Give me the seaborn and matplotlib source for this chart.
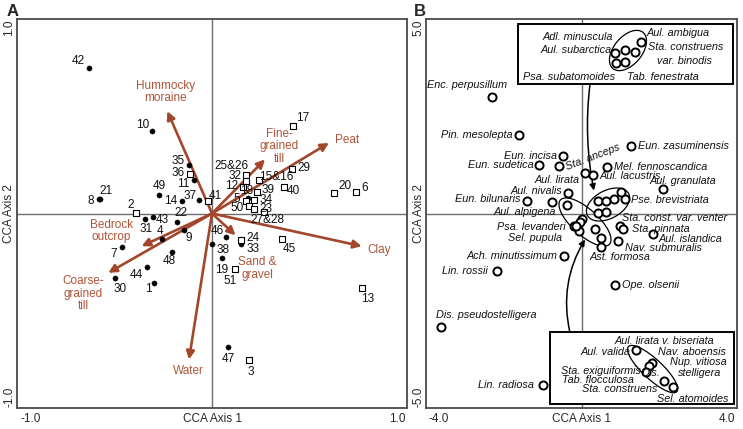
import numpy as np
import pandas as pd
import matplotlib
matplotlib.use('Agg')
import matplotlib.pyplot as plt
import seaborn as sns
from matplotlib.patches import Ellipse, Rectangle

sns.set_theme(style='white')
plt.rcParams['font.family'] = ['Liberation Sans', 'DejaVu Sans']

# ---------------- Panel A data: site scores ----------------
filled_names = ['42', '10', '35', '11', '49', '14', '37', '21', '8', '31', '43', '22', '4', '9',
                '7', '48', '44', '30', '1', '46', '38', '33', '19', '47', '18']
filled_x = [-0.629, -0.309, -0.118, -0.091, -0.273, -0.154, -0.068, -0.573, -0.580, -0.344, -0.301,
            -0.178, -0.258, -0.144, -0.460, -0.207, -0.335, -0.497, -0.296, 0.072, 0.000, 0.149,
            0.049, 0.082, 0.186]
filled_y = [0.749, 0.423, 0.247, 0.170, 0.094, 0.063, 0.067, 0.076, 0.072, -0.027, -0.019,
            -0.045, -0.130, -0.086, -0.173, -0.197, -0.276, -0.333, -0.358, -0.122, -0.158, -0.159,
            -0.229, -0.687, 0.081]

open_names = ['36', '2', '41', '17', '29', '25&26', '32', '12', '15&16', '39', '40', '20', '6', '5',
              '34', '50', '23', '27&28', '24', '45', '51', '13', '3']
open_x = [-0.111, -0.390, -0.018, 0.417, 0.410, 0.173, 0.173, 0.159, 0.239, 0.233, 0.368, 0.624,
          0.738, 0.173, 0.215, 0.190, 0.215, 0.267, 0.149, 0.357, 0.116, 0.769, 0.190]
open_y = [0.203, 0.005, 0.063, 0.452, 0.230, 0.197, 0.166, 0.134, 0.170, 0.111, 0.137, 0.106,
          0.113, 0.062, 0.069, 0.036, 0.023, 0.008, -0.134, -0.129, -0.284, -0.382, -0.751]

env_names = ['Hummocky\nmoraine', 'Fine-\ngrained\ntill', 'Peat', 'Clay', 'Sand &\ngravel',
             'Water', 'Bedrock\noutcrop', 'Coarse-\ngrained\ntill']
env_x = [-0.229, 0.272, 0.600, 0.768, 0.121, -0.118, -0.361, -0.532]
env_y = [0.526, 0.278, 0.363, -0.168, -0.112, -0.751, -0.168, -0.305]

# ---------------- Panel B data: species scores ----------------
sp_names = ['Enc. perpusillum', 'Pin. mesolepta', 'Eun. incisa', 'Eun. sudetica', 'Sta. anceps',
            'Aul. lirata', 'Aul. lacustris', 'Eun. zasuminensis', 'Mel. fennoscandica',
            'Aul. granulata', 'Aul. nivalis', 'Eun. bilunaris', 'Aul. alpigena',
            'Pse. brevistriata', 'Psa. levanderi', 'Sel. pupula', 'Sta. const. var. venter',
            'Sta. pinnata', 'Aul. islandica', 'Nav. submuralis', 'Ast. formosa', 'Ope. olsenii',
            'Ach. minutissimum', 'Lin. rossii', 'Dis. pseudostelligera', 'Lin. radiosa']
sp_x = [-2.31, -1.60, -0.48, -1.09, -0.57, 0.09, 0.29, 1.27, 0.65, 2.10, -0.34, -1.41, -0.77,
        1.12, -0.19, -0.06, 0.98, 1.06, 1.83, 0.95, 0.50, 0.86, -0.45, -2.18, -3.61, -0.98]
sp_y = [2.99, 2.03, 1.47, 1.24, 1.22, 1.04, 0.98, 1.73, 1.19, 0.62, 0.53, 0.32, 0.29,
        0.36, -0.33, -0.46, -0.31, -0.39, -0.52, -0.71, -0.87, -1.84, -1.10, -1.47, -2.92, -4.41]

cluster_x = [0.42, 0.63, 0.84, 1.02, 0.43, 0.62, -0.37, 0.01, -0.05, -0.13, 0.36, 0.49]
cluster_y = [0.32, 0.33, 0.36, 0.56, 0.02, 0.05, 0.22, -0.13, -0.21, -0.31, -0.39, -0.64]

box_up_x = [0.86, 1.12, 1.38, 1.52, 0.89, 1.12]
box_up_y = [4.13, 4.20, 4.16, 4.40, 3.87, 3.89]
box_lo_x = [1.40, 1.81, 1.74, 1.66, 2.12, 2.35]
box_lo_y = [-3.51, -3.85, -3.91, -4.07, -4.30, -4.45]

# ---------------- layout (label offsets in pixels) ----------------
site_off = {'42': (-11, 7), '10': (-9, 6), '35': (-11, 4), '11': (-11, -4), '49': (0, 9),
            '14': (-11, 0), '37': (-9, 4), '21': (6, 8), '8': (-8, -2), '31': (1, -10),
            '43': (9, -3), '22': (4, 9), '4': (-2, 8), '9': (5, -8), '7': (-9, -7), '48': (-2, -9),
            '44': (-10, -8), '30': (5, -11), '1': (-6, -6), '46': (-9, 6), '38': (11, -6),
            '33': (12, -5), '19': (0, -12), '47': (0, -12), '18': (-2, 7),
            '36': (-12, 1), '2': (-5, 8), '41': (7, 5), '17': (9, 8), '29': (12, 1),
            '25&26': (-14, 9), '32': (-11, 5), '12': (-11, 1), '15&16': (18, 3), '39': (11, 2),
            '40': (10, -4), '20': (11, 7), '6': (9, 4), '5': (-9, 2), '34': (12, 0),
            '50': (-12, -2), '23': (12, 0), '27&28': (3, -8), '24': (12, 2), '45': (8, -10),
            '51': (-5, -12), '13': (6, -11), '3': (2, -12)}
env_off = [(-2, 19, 'center'), (14, 13, 'center'), (18, 3, 'center'), (6, -4, 'left'),
           (22, -33, 'center'), (-1, -11, 'center'), (-30, 15, 'center'), (-25, -21, 'center')]
sp_off = {'Enc. perpusillum': (15, 12, 'right'), 'Pin. mesolepta': (-7, 0, 'right'),
          'Eun. incisa': (-6, 0, 'right'), 'Eun. sudetica': (-6, 0, 'right'),
          'Sta. anceps': (7, -1, 'left'), 'Aul. lirata': (-5, -6.5, 'right'),
          'Aul. lacustris': (7, -1, 'left'), 'Eun. zasuminensis': (7, 0, 'left'),
          'Mel. fennoscandica': (7, 0, 'left'), 'Aul. granulata': (20, 8, 'center'),
          'Aul. nivalis': (-6, 2, 'right'), 'Eun. bilunaris': (-6, 2, 'right'),
          'Aul. alpigena': (4, -10, 'right'), 'Pse. brevistriata': (6, -1, 'left'),
          'Psa. levanderi': (-8, -1, 'right'), 'Sel. pupula': (-17, -7, 'right'),
          'Sta. const. var. venter': (2, 8, 'left'), 'Sta. pinnata': (9, 0, 'left'),
          'Aul. islandica': (6, -5, 'left'), 'Nav. submuralis': (7, -7, 'left'),
          'Ast. formosa': (19, -10, 'center'), 'Ope. olsenii': (7, 0, 'left'),
          'Ach. minutissimum': (-7, 0, 'right'), 'Lin. rossii': (-9, 0, 'right'),
          'Dis. pseudostelligera': (-5, 12, 'left'), 'Lin. radiosa': (-10, 0, 'right')}
box_up_text = [('Adl. minuscula', 0.81, 4.55, 'right'), ('Aul. subarctica', 0.78, 4.20, 'right'),
               ('Aul. ambigua', 1.66, 4.65, 'left'), ('Sta. construens', 1.71, 4.28, 'left'),
               ('var. binodis', 2.64, 3.93, 'center'), ('Psa. subatomoides', -1.50, 3.52, 'left'),
               ('Tab. fenestrata', 1.17, 3.52, 'left')]
box_lo_text = [('Aul. lirata v. biseriata', 2.12, -3.28, 'center'), ('Aul. valida', 1.25, -3.57, 'right'),
               ('Nav. aboensis', 1.97, -3.57, 'left'), ('Nup. vitiosa', 2.28, -3.83, 'left'),
               ('Sta. exiguiformis', 1.53, -4.06, 'right'), ('Dis.', 1.79, -4.11, 'center'),
               ('stelligera', 2.48, -4.09, 'left'), ('Tab. flocculosa', 1.35, -4.29, 'right'),
               ('Sta. construens', 1.94, -4.52, 'right'), ('Sel. atomoides', 1.94, -4.76, 'left')]

ARROW_C = '#A3472C'
TEXT_C = '#AE5438'
FS = 8.5
FSB = 7.8

fig = plt.figure(figsize=(7.43, 4.29), dpi=100)
axA = fig.add_axes([17 / 743, 21 / 429, 390 / 743, 389 / 429])
axB = fig.add_axes([426 / 743, 21 / 429, 311 / 743, 389 / 429])

def frame(ax, xl, yl, labs):
    ax.set_xlim(*xl)
    ax.set_ylim(*yl)
    ax.set_xticks([])
    ax.set_yticks([])
    ax.set_xlabel('')
    ax.set_ylabel('')
    for s in ax.spines.values():
        s.set_color('#4a4a4a')
        s.set_linewidth(1.3)
    ax.axhline(0, color='#6e6e6e', lw=1.0, zorder=0)
    ax.axvline(0, color='#6e6e6e', lw=1.0, zorder=0)
    t = ax.transAxes
    ax.text(0.008, -0.012, labs[0], transform=t, ha='left', va='top', fontsize=FS)
    ax.text(0.995, -0.012, labs[1], transform=t, ha='right', va='top', fontsize=FS)
    ax.text(0.5, -0.012, 'CCA Axis 1', transform=t, ha='center', va='top', fontsize=FS)
    ax.text(-0.004, 0.998, labs[3], transform=t, ha='right', va='top', rotation=90, fontsize=FS)
    ax.text(-0.004, 0.002, labs[2], transform=t, ha='right', va='bottom', rotation=90, fontsize=FS)
    ax.text(-0.004, 0.5, 'CCA Axis 2', transform=t, ha='right', va='center', rotation=90, fontsize=FS)

# ---------------- Panel A ----------------
dfF = pd.DataFrame({'name': filled_names, 'x': filled_x, 'y': filled_y})
dfO = pd.DataFrame({'name': open_names, 'x': open_x, 'y': open_y})
sns.scatterplot(data=dfF, x='x', y='y', ax=axA, marker='o', s=14, color='black',
                edgecolor='black', linewidth=0.3, legend=False, zorder=4)
sns.scatterplot(data=dfO, x='x', y='y', ax=axA, marker='s', s=20, color='white',
                edgecolor='black', linewidth=0.8, legend=False, zorder=4)
frame(axA, (-1, 1), (-1, 1), ['-1.0', '1.0', '-1.0', '1.0'])

for df in (dfF, dfO):
    for _, r in df.iterrows():
        dx, dy = site_off[r['name']]
        axA.annotate(r['name'], (r['x'], r['y']), xytext=(dx, dy), textcoords='offset pixels',
                     ha='center', va='center', fontsize=FS, color='#111111', zorder=5)

for i, nm in enumerate(env_names):
    axA.annotate('', xy=(env_x[i], env_y[i]), xytext=(0, 0),
                 arrowprops=dict(arrowstyle='-|>', color=ARROW_C, lw=1.9, mutation_scale=12,
                                 shrinkA=0, shrinkB=0), zorder=3)
    dx, dy, ha = env_off[i]
    axA.annotate(nm, (env_x[i], env_y[i]), xytext=(dx, dy), textcoords='offset pixels',
                 ha=ha, va='center', fontsize=FS, color=TEXT_C, linespacing=1.05, zorder=5)

# ---------------- Panel B ----------------
dfS = pd.DataFrame({'name': sp_names, 'x': sp_x, 'y': sp_y})
dfC = pd.DataFrame({'x': cluster_x + box_up_x + box_lo_x, 'y': cluster_y + box_up_y + box_lo_y})
frame(axB, (-4, 4), (-5, 5), ['-4.0', '4.0', '-5.0', '5.0'])

axB.add_patch(Rectangle((-1.63, 3.34), 5.53, 1.54, facecolor='white', edgecolor='black',
                        lw=1.4, zorder=2))
axB.add_patch(Rectangle((-0.81, -4.90), 4.73, 1.85, facecolor='white', edgecolor='black',
                        lw=1.4, zorder=2))
for (cx, cy, w, h, a) in [(1.196, 4.19, 1.21, 0.72, 50), (0.682, 0.231, 1.20, 0.72, 28),
                          (0.09, -0.22, 1.70, 0.67, -42), (1.83, -4.00, 1.70, 0.51, -43)]:
    axB.add_patch(Ellipse((cx, cy), w, h, angle=a, fill=False, edgecolor='black', lw=0.9, zorder=3))

sns.scatterplot(data=dfS, x='x', y='y', ax=axB, marker='o', s=34, color='white',
                edgecolor='black', linewidth=1.4, legend=False, zorder=4)
sns.scatterplot(data=dfC, x='x', y='y', ax=axB, marker='o', s=34, color='white',
                edgecolor='black', linewidth=1.4, legend=False, zorder=4)
axB.set_xlabel('')
axB.set_ylabel('')

for _, r in dfS.iterrows():
    dx, dy, ha = sp_off[r['name']]
    rot = 21 if r['name'] == 'Sta. anceps' else 0
    axB.annotate(r['name'], (r['x'], r['y']), xytext=(dx, dy), textcoords='offset pixels',
                 ha=ha, va='center', fontsize=FSB, style='italic', rotation=rot,
                 rotation_mode='anchor', color='#111111', zorder=5)
for (t, x, y, ha) in box_up_text + box_lo_text:
    axB.text(x, y, t, ha=ha, va='center', fontsize=FSB, style='italic', color='#111111', zorder=5)

axB.annotate('', xy=(0.32, 0.59), xytext=(0.22, 3.34),
             arrowprops=dict(arrowstyle='-|>', color='black', lw=1.1, mutation_scale=9,
                             shrinkA=0, shrinkB=0, connectionstyle='arc3,rad=0.08'), zorder=3)
axB.annotate('', xy=(0.09, -0.67), xytext=(-0.30, -3.05),
             arrowprops=dict(arrowstyle='-|>', color='black', lw=1.1, mutation_scale=9,
                             shrinkA=0, shrinkB=0, connectionstyle='arc3,rad=-0.2'), zorder=3)

fig.text(7 / 743, 1 - 12 / 429, 'A', fontsize=12, fontweight='bold', ha='left', va='center')
fig.text(414 / 743, 1 - 12 / 429, 'B', fontsize=12, fontweight='bold', ha='left', va='center')

fig.savefig('out.png', dpi=100, facecolor='white')
